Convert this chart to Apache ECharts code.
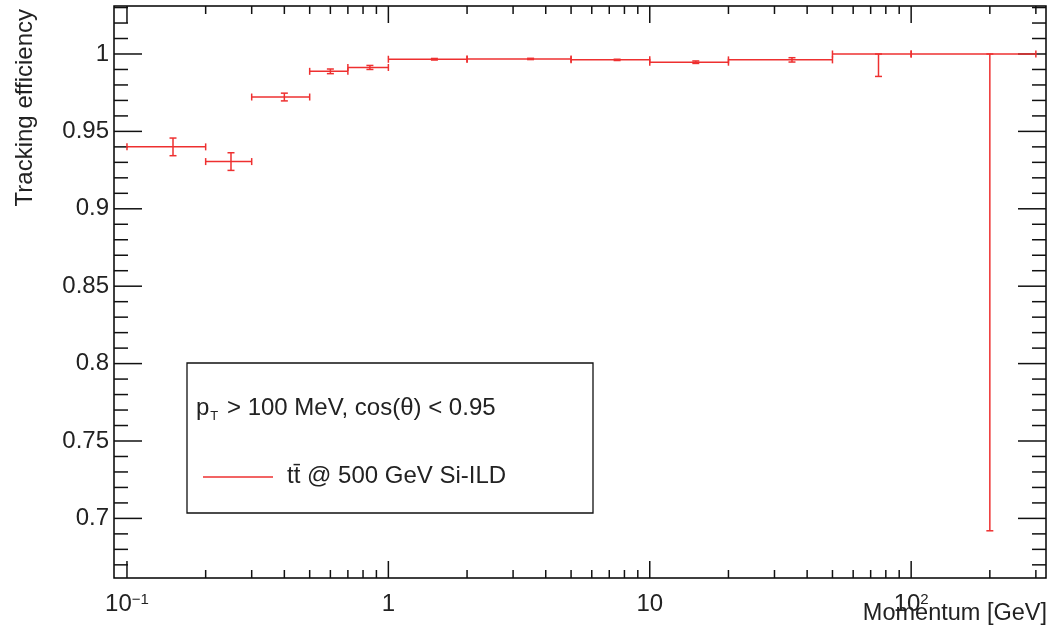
<!DOCTYPE html>
<html>
<head>
<meta charset="utf-8">
<script src="https://cdn.jsdelivr.net/npm/echarts@6/dist/echarts.min.js"></script>
<style>html,body{margin:0;padding:0;background:#fff;}#c{width:1048px;height:631px;}</style>
</head>
<body>
<div id="c"></div>
<script>
// ---- data ----
const binLow    = [0.1, 0.2, 0.3, 0.5, 0.7, 1, 2, 5, 10, 20, 50, 100];
const binHigh   = [0.2, 0.3, 0.5, 0.7, 1, 2, 5, 10, 20, 50, 100, 300];
const binCenter = [0.15, 0.25, 0.4, 0.6, 0.85, 1.5, 3.5, 7.5, 15, 35, 75, 200];
const efficiency = [0.940, 0.9305, 0.9722, 0.9888, 0.9913, 0.9966, 0.9968, 0.9962, 0.9947, 0.9962, 1.0, 1.0];
const errLow    = [0.0057, 0.0057, 0.0025, 0.0015, 0.0013, 0.0005, 0.0004, 0.0004, 0.0008, 0.0014, 0.0145, 0.308];
const errHigh   = [0.0057, 0.0057, 0.0025, 0.0015, 0.0013, 0.0005, 0.0004, 0.0004, 0.0008, 0.0014, 0, 0];

const xLabelTicks = [0.1, 1, 10, 100];
const xMinorTicks = [0.2, 0.3, 0.4, 0.5, 0.6, 0.7, 0.8, 0.9, 2, 3, 4, 5, 6, 7, 8, 9, 20, 30, 40, 50, 60, 70, 80, 90, 200, 300];
const yLabelTicks = [0.7, 0.75, 0.8, 0.85, 0.9, 0.95, 1];
const yMinorTicks = [0.67, 0.68, 0.69, 0.71, 0.72, 0.73, 0.74, 0.76, 0.77, 0.78, 0.79, 0.81, 0.82, 0.83, 0.84,
  0.86, 0.87, 0.88, 0.89, 0.91, 0.92, 0.93, 0.94, 0.96, 0.97, 0.98, 0.99, 1.01, 1.02, 1.03];

const seriesName = 't\u0074\u0304 @ 500 GeV Si-ILD';
const headerText = 'p{sub|T} > 100 MeV, cos(\u03b8) < 0.95';
const xTitle = 'Momentum [GeV]';
const yTitle = 'Tracking efficiency';

// ---- build ----
const FONT = '"Liberation Sans", Arial, Helvetica, sans-serif';
const RED = '#ee3030';
const binData = binCenter.map((c, i) => [c, efficiency[i], binLow[i], binHigh[i],
  efficiency[i] - errLow[i], efficiency[i] + errHigh[i]]);
const xTickData = xLabelTicks.map(v => [v, 1, 1]).concat(xMinorTicks.map(v => [v, 1, 0]));
const yTickData = yLabelTicks.map(v => [1, v, 1]).concat(yMinorTicks.map(v => [1, v, 0]));

const tickStyle = { stroke: '#111', lineWidth: 1.5 };

function renderBin(params, api) {
  const xc = api.value(0), y = api.value(1);
  const pc = api.coord([xc, y]);
  const pl = api.coord([api.value(2), y]);
  const ph = api.coord([api.value(3), y]);
  const pyl = api.coord([xc, api.value(4)])[1];
  const pyh = api.coord([xc, api.value(5)])[1];
  const s = { stroke: RED, lineWidth: 1.5 };
  const t = 3.5;
  const ch = [
    { type: 'line', shape: { x1: pl[0], y1: pl[1], x2: ph[0], y2: ph[1] }, style: s },
    { type: 'line', shape: { x1: pl[0], y1: pl[1] - t, x2: pl[0], y2: pl[1] + t }, style: s },
    { type: 'line', shape: { x1: ph[0], y1: ph[1] - t, x2: ph[0], y2: ph[1] + t }, style: s },
    { type: 'line', shape: { x1: pc[0], y1: pyh, x2: pc[0], y2: pyl }, style: s },
    { type: 'line', shape: { x1: pc[0] - t, y1: pyl, x2: pc[0] + t, y2: pyl }, style: s },
    { type: 'line', shape: { x1: pc[0] - t, y1: pyh, x2: pc[0] + t, y2: pyh }, style: s }
  ];
  return { type: 'group', children: ch };
}

function renderXTick(params, api) {
  const cs = params.coordSys;
  const x = api.coord([api.value(0), 1])[0];
  const len = api.value(2) ? 17 : 8;
  const b = cs.y + cs.height, tp = cs.y;
  return { type: 'group', children: [
    { type: 'line', shape: { x1: x, y1: b, x2: x, y2: b - len }, style: tickStyle },
    { type: 'line', shape: { x1: x, y1: tp, x2: x, y2: tp + len }, style: tickStyle }
  ]};
}

function renderYTick(params, api) {
  const cs = params.coordSys;
  const y = api.coord([1, api.value(1)])[1];
  const len = api.value(2) ? 28 : 14;
  const l = cs.x, r = cs.x + cs.width;
  return { type: 'group', children: [
    { type: 'line', shape: { x1: l, y1: y, x2: l + len, y2: y }, style: tickStyle },
    { type: 'line', shape: { x1: r, y1: y, x2: r - len, y2: y }, style: tickStyle }
  ]};
}

const chart = echarts.init(document.getElementById('c'), null, { renderer: 'canvas' });
chart.setOption({
  animation: false,
  backgroundColor: '#fff',
  textStyle: { fontFamily: FONT },
  grid: { left: 114, right: 2, top: 6, bottom: 53, containLabel: false, outerBoundsMode: 'none',
    show: true, borderColor: '#000', borderWidth: 1.5, backgroundColor: 'transparent' },
  xAxis: {
    type: 'log', logBase: 10, min: 0.0892, max: 328,
    axisLine: { show: false }, axisTick: { show: false }, splitLine: { show: false },
    axisLabel: {
      customValues: xLabelTicks, margin: 14, color: '#222', fontSize: 24, fontFamily: FONT,
      formatter: function (v) {
        const e = Math.round(Math.log10(v));
        if (e === 0) return '{b|1}';
        if (e === 1) return '{b|10}';
        return '{b|10}{sup|' + (e < 0 ? '\u2212' + (-e) : e) + '}';
      },
      rich: {
        b: { fontSize: 24, lineHeight: 24, fontFamily: FONT, color: '#222' },
        sup: { fontSize: 15, lineHeight: 15, verticalAlign: 'top', padding: [0, 0, 4, 0], fontFamily: FONT, color: '#222' }
      }
    }
  },
  yAxis: {
    type: 'value', min: 0.6615, max: 1.031,
    axisLine: { show: false }, axisTick: { show: false }, splitLine: { show: false },
    axisLabel: {
      customValues: yLabelTicks, margin: 5, color: '#222', fontSize: 24, fontFamily: FONT,
      formatter: function (v) { return String(+(+v).toFixed(2)); }
    }
  },
  graphic: [
    { type: 'text', x: 25, y: 9, rotation: Math.PI / 2,
      style: { text: yTitle, fontFamily: FONT, fontSize: 24, fill: '#222', align: 'right', verticalAlign: 'middle' } },
    { type: 'text', x: 1047, y: 614,
      style: { text: xTitle, fontFamily: FONT, fontSize: 23.5, fill: '#222', align: 'right', verticalAlign: 'middle' } },
    { type: 'rect', shape: { x: 187, y: 363, width: 406, height: 150 },
      style: { fill: '#fff', stroke: '#111', lineWidth: 1.3 }, z: 10 },
    { type: 'text', x: 196, y: 408, z: 11,
      style: { text: headerText, fontFamily: FONT, fontSize: 24, fill: '#222', verticalAlign: 'middle',
        rich: { sub: { fontSize: 13, fontFamily: FONT, fill: '#222', padding: [16, 2, 0, 1] } } } },
    { type: 'line', z: 11, shape: { x1: 203, y1: 477, x2: 273, y2: 477 }, style: { stroke: RED, lineWidth: 1.5 } },
    { type: 'text', x: 287, y: 476, z: 11,
      style: { text: seriesName, fontFamily: FONT, fontSize: 24, fill: '#222', verticalAlign: 'middle' } }
  ],
  series: [
    { name: 'xTicks', type: 'custom', renderItem: renderXTick, data: xTickData, silent: true, z: 3 },
    { name: 'yTicks', type: 'custom', renderItem: renderYTick, data: yTickData, silent: true, z: 3 },
    { name: seriesName, type: 'custom', renderItem: renderBin, data: binData, z: 4 }
  ]
});
</script>
</body>
</html>
